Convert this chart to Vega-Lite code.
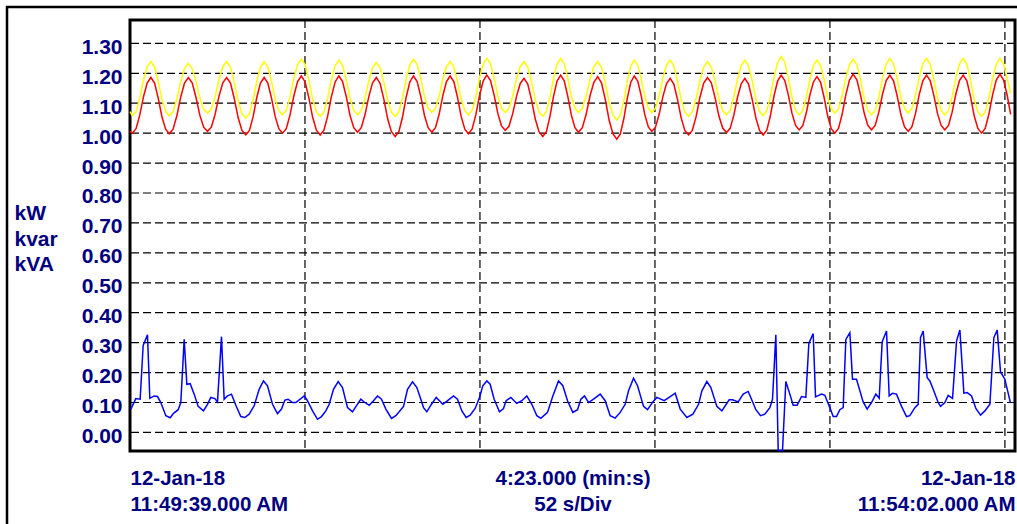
{
"$schema": "https://vega.github.io/schema/vega-lite/v6.json",
"width": 885,
"height": 431,
"autosize": {"type": "none"},
"padding": {"left": 130, "top": 20, "right": 2, "bottom": 73},
"background": "white",
"config": {"view": {"stroke": "black", "strokeWidth": 3}, "font": "Liberation Sans"},
"datasets": {
"pq": [
{"t":0,"kW":1.006,"kVA":1.072},
{"t":0.7,"kW":1.000,"kVA":1.058},{"t":1.8,"kW":1.015,"kVA":1.072},{"t":2.9,"kW":1.060,"kVA":1.116},{"t":4.0,"kW":1.121,"kVA":1.176},{"t":5.1,"kW":1.167,"kVA":1.221},{"t":6.2,"kW":1.186,"kVA":1.239},{"t":7.3,"kW":1.167,"kVA":1.221},{"t":8.4,"kW":1.116,"kVA":1.172},{"t":9.5,"kW":1.054,"kVA":1.112},{"t":10.6,"kW":1.013,"kVA":1.072},
{"t":11.65,"kW":0.998,"kVA":1.058},{"t":12.79,"kW":1.013,"kVA":1.072},{"t":13.93,"kW":1.058,"kVA":1.114},{"t":15.06,"kW":1.120,"kVA":1.172},{"t":16.2,"kW":1.167,"kVA":1.216},{"t":17.34,"kW":1.186,"kVA":1.233},{"t":18.48,"kW":1.168,"kVA":1.216},{"t":19.62,"kW":1.119,"kVA":1.172},{"t":20.75,"kW":1.060,"kVA":1.117},{"t":21.89,"kW":1.020,"kVA":1.080},
{"t":23.03,"kW":1.006,"kVA":1.067},{"t":24.17,"kW":1.020,"kVA":1.081},{"t":25.31,"kW":1.064,"kVA":1.122},{"t":26.44,"kW":1.123,"kVA":1.179},{"t":27.58,"kW":1.168,"kVA":1.222},{"t":28.72,"kW":1.186,"kVA":1.239},{"t":29.86,"kW":1.167,"kVA":1.220},{"t":31.0,"kW":1.115,"kVA":1.169},{"t":32.13,"kW":1.052,"kVA":1.107},{"t":33.27,"kW":1.009,"kVA":1.065},
{"t":34.41,"kW":0.994,"kVA":1.050},{"t":35.5,"kW":1.009,"kVA":1.065},{"t":36.59,"kW":1.055,"kVA":1.110},{"t":37.68,"kW":1.119,"kVA":1.173},{"t":38.77,"kW":1.167,"kVA":1.220},{"t":39.87,"kW":1.186,"kVA":1.239},{"t":40.96,"kW":1.167,"kVA":1.221},{"t":42.05,"kW":1.117,"kVA":1.173},{"t":43.14,"kW":1.056,"kVA":1.114},{"t":44.23,"kW":1.015,"kVA":1.075},
{"t":45.32,"kW":1.000,"kVA":1.061},{"t":46.44,"kW":1.015,"kVA":1.076},{"t":47.56,"kW":1.061,"kVA":1.121},{"t":48.68,"kW":1.124,"kVA":1.182},{"t":49.8,"kW":1.172,"kVA":1.228},{"t":50.92,"kW":1.191,"kVA":1.247},{"t":52.04,"kW":1.171,"kVA":1.228},{"t":53.16,"kW":1.118,"kVA":1.176},{"t":54.28,"kW":1.053,"kVA":1.113},{"t":55.4,"kW":1.010,"kVA":1.071},
{"t":56.52,"kW":0.994,"kVA":1.056},{"t":57.63,"kW":1.010,"kVA":1.071},{"t":58.74,"kW":1.057,"kVA":1.116},{"t":59.85,"kW":1.122,"kVA":1.178},{"t":60.96,"kW":1.171,"kVA":1.225},{"t":62.07,"kW":1.191,"kVA":1.244},{"t":63.17,"kW":1.172,"kVA":1.226},{"t":64.28,"kW":1.121,"kVA":1.176},{"t":65.39,"kW":1.059,"kVA":1.116},{"t":66.5,"kW":1.018,"kVA":1.076},
{"t":67.61,"kW":1.003,"kVA":1.061},{"t":68.73,"kW":1.018,"kVA":1.075},{"t":69.85,"kW":1.062,"kVA":1.117},{"t":70.97,"kW":1.122,"kVA":1.175},{"t":72.09,"kW":1.168,"kVA":1.219},{"t":73.21,"kW":1.186,"kVA":1.236},{"t":74.33,"kW":1.166,"kVA":1.218},{"t":75.45,"kW":1.113,"kVA":1.169},{"t":76.57,"kW":1.048,"kVA":1.110},{"t":77.69,"kW":1.005,"kVA":1.070},
{"t":78.81,"kW":0.989,"kVA":1.056},{"t":79.9,"kW":1.005,"kVA":1.071},{"t":80.99,"kW":1.054,"kVA":1.117},{"t":82.07,"kW":1.120,"kVA":1.180},{"t":83.16,"kW":1.171,"kVA":1.228},{"t":84.25,"kW":1.191,"kVA":1.247},{"t":85.34,"kW":1.172,"kVA":1.229},{"t":86.43,"kW":1.121,"kVA":1.181},{"t":87.51,"kW":1.059,"kVA":1.122},{"t":88.6,"kW":1.018,"kVA":1.083},
{"t":89.69,"kW":1.003,"kVA":1.069},{"t":90.78,"kW":1.018,"kVA":1.083},{"t":91.87,"kW":1.063,"kVA":1.123},{"t":92.96,"kW":1.125,"kVA":1.180},{"t":94.05,"kW":1.172,"kVA":1.222},{"t":95.14,"kW":1.191,"kVA":1.239},{"t":96.23,"kW":1.172,"kVA":1.221},{"t":97.32,"kW":1.120,"kVA":1.173},{"t":98.41,"kW":1.056,"kVA":1.114},{"t":99.5,"kW":1.013,"kVA":1.075},
{"t":100.59,"kW":0.998,"kVA":1.061},{"t":101.68,"kW":1.014,"kVA":1.076},{"t":102.77,"kW":1.061,"kVA":1.121},{"t":103.86,"kW":1.125,"kVA":1.184},{"t":104.95,"kW":1.174,"kVA":1.231},{"t":106.05,"kW":1.194,"kVA":1.250},{"t":107.14,"kW":1.176,"kVA":1.232},{"t":108.23,"kW":1.126,"kVA":1.183},{"t":109.32,"kW":1.065,"kVA":1.123},{"t":110.41,"kW":1.024,"kVA":1.083},
{"t":111.5,"kW":1.009,"kVA":1.069},{"t":112.62,"kW":1.023,"kVA":1.083},{"t":113.73,"kW":1.065,"kVA":1.123},{"t":114.85,"kW":1.122,"kVA":1.180},{"t":115.97,"kW":1.166,"kVA":1.222},{"t":117.09,"kW":1.183,"kVA":1.239},{"t":118.2,"kW":1.164,"kVA":1.221},{"t":119.32,"kW":1.111,"kVA":1.171},{"t":120.44,"kW":1.047,"kVA":1.111},{"t":121.55,"kW":1.005,"kVA":1.071},
{"t":122.67,"kW":0.989,"kVA":1.056},{"t":123.73,"kW":1.005,"kVA":1.072},{"t":124.79,"kW":1.055,"kVA":1.118},{"t":125.85,"kW":1.122,"kVA":1.182},{"t":126.91,"kW":1.174,"kVA":1.231},{"t":127.98,"kW":1.194,"kVA":1.250},{"t":129.04,"kW":1.175,"kVA":1.232},{"t":130.1,"kW":1.123,"kVA":1.183},{"t":131.16,"kW":1.060,"kVA":1.123},{"t":132.22,"kW":1.018,"kVA":1.083},
{"t":133.28,"kW":1.003,"kVA":1.069},{"t":134.42,"kW":1.018,"kVA":1.083},{"t":135.56,"kW":1.063,"kVA":1.123},{"t":136.7,"kW":1.124,"kVA":1.180},{"t":137.84,"kW":1.170,"kVA":1.222},{"t":138.98,"kW":1.189,"kVA":1.239},{"t":140.11,"kW":1.168,"kVA":1.220},{"t":141.25,"kW":1.112,"kVA":1.167},{"t":142.39,"kW":1.043,"kVA":1.103},{"t":143.53,"kW":0.997,"kVA":1.060},
{"t":144.67,"kW":0.980,"kVA":1.044},{"t":145.71,"kW":0.997,"kVA":1.060},{"t":146.75,"kW":1.048,"kVA":1.108},{"t":147.79,"kW":1.117,"kVA":1.174},{"t":148.83,"kW":1.170,"kVA":1.224},{"t":149.87,"kW":1.191,"kVA":1.244},{"t":150.91,"kW":1.173,"kVA":1.227},{"t":151.95,"kW":1.123,"kVA":1.179},{"t":152.99,"kW":1.062,"kVA":1.122},{"t":154.03,"kW":1.021,"kVA":1.083},
{"t":155.07,"kW":1.006,"kVA":1.069},{"t":156.16,"kW":1.020,"kVA":1.083},{"t":157.25,"kW":1.063,"kVA":1.125},{"t":158.34,"kW":1.121,"kVA":1.183},{"t":159.43,"kW":1.165,"kVA":1.227},{"t":160.52,"kW":1.183,"kVA":1.244},{"t":161.61,"kW":1.164,"kVA":1.225},{"t":162.7,"kW":1.113,"kVA":1.174},{"t":163.79,"kW":1.051,"kVA":1.112},{"t":164.88,"kW":1.009,"kVA":1.071},
{"t":165.97,"kW":0.994,"kVA":1.056},{"t":167.1,"kW":1.009,"kVA":1.071},{"t":168.23,"kW":1.055,"kVA":1.115},{"t":169.36,"kW":1.119,"kVA":1.175},{"t":170.49,"kW":1.167,"kVA":1.221},{"t":171.62,"kW":1.186,"kVA":1.239},{"t":172.75,"kW":1.168,"kVA":1.221},{"t":173.88,"kW":1.118,"kVA":1.173},{"t":175.01,"kW":1.057,"kVA":1.114},{"t":176.14,"kW":1.017,"kVA":1.075},
{"t":177.27,"kW":1.002,"kVA":1.061},{"t":178.36,"kW":1.016,"kVA":1.076},{"t":179.45,"kW":1.060,"kVA":1.120},{"t":180.54,"kW":1.120,"kVA":1.180},{"t":181.63,"kW":1.165,"kVA":1.226},{"t":182.72,"kW":1.183,"kVA":1.244},{"t":183.81,"kW":1.164,"kVA":1.225},{"t":184.9,"kW":1.113,"kVA":1.175},{"t":185.99,"kW":1.051,"kVA":1.114},{"t":187.08,"kW":1.009,"kVA":1.073},
{"t":188.17,"kW":0.994,"kVA":1.058},{"t":189.24,"kW":1.010,"kVA":1.074},{"t":190.31,"kW":1.058,"kVA":1.121},{"t":191.38,"kW":1.124,"kVA":1.187},{"t":192.45,"kW":1.174,"kVA":1.236},{"t":193.52,"kW":1.194,"kVA":1.256},{"t":194.59,"kW":1.176,"kVA":1.237},{"t":195.66,"kW":1.126,"kVA":1.184},{"t":196.73,"kW":1.066,"kVA":1.120},{"t":197.8,"kW":1.026,"kVA":1.077},
{"t":198.87,"kW":1.011,"kVA":1.061},{"t":199.93,"kW":1.025,"kVA":1.076},{"t":200.99,"kW":1.068,"kVA":1.120},{"t":202.04,"kW":1.127,"kVA":1.180},{"t":203.1,"kW":1.171,"kVA":1.226},{"t":204.16,"kW":1.189,"kVA":1.244},{"t":205.22,"kW":1.170,"kVA":1.226},{"t":206.28,"kW":1.119,"kVA":1.179},{"t":207.33,"kW":1.057,"kVA":1.120},{"t":208.39,"kW":1.015,"kVA":1.081},
{"t":209.45,"kW":1.000,"kVA":1.067},{"t":210.54,"kW":1.016,"kVA":1.081},{"t":211.63,"kW":1.063,"kVA":1.125},{"t":212.72,"kW":1.128,"kVA":1.184},{"t":213.81,"kW":1.177,"kVA":1.229},{"t":214.91,"kW":1.197,"kVA":1.247},{"t":216.0,"kW":1.178,"kVA":1.228},{"t":217.09,"kW":1.128,"kVA":1.178},{"t":218.18,"kW":1.067,"kVA":1.117},{"t":219.27,"kW":1.026,"kVA":1.076},
{"t":220.36,"kW":1.011,"kVA":1.061},{"t":221.45,"kW":1.026,"kVA":1.076},{"t":222.54,"kW":1.070,"kVA":1.121},{"t":223.63,"kW":1.130,"kVA":1.184},{"t":224.72,"kW":1.176,"kVA":1.231},{"t":225.81,"kW":1.194,"kVA":1.250},{"t":226.9,"kW":1.175,"kVA":1.232},{"t":227.99,"kW":1.124,"kVA":1.182},{"t":229.08,"kW":1.062,"kVA":1.122},{"t":230.17,"kW":1.021,"kVA":1.082},
{"t":231.26,"kW":1.006,"kVA":1.067},{"t":232.35,"kW":1.021,"kVA":1.082},{"t":233.44,"kW":1.066,"kVA":1.126},{"t":234.52,"kW":1.128,"kVA":1.186},{"t":235.61,"kW":1.175,"kVA":1.232},{"t":236.7,"kW":1.194,"kVA":1.250},{"t":237.79,"kW":1.176,"kVA":1.231},{"t":238.88,"kW":1.126,"kVA":1.180},{"t":239.96,"kW":1.066,"kVA":1.118},{"t":241.05,"kW":1.026,"kVA":1.076},
{"t":242.14,"kW":1.011,"kVA":1.061},{"t":243.23,"kW":1.026,"kVA":1.076},{"t":244.32,"kW":1.070,"kVA":1.121},{"t":245.41,"kW":1.130,"kVA":1.184},{"t":246.5,"kW":1.176,"kVA":1.231},{"t":247.6,"kW":1.194,"kVA":1.250},{"t":248.69,"kW":1.175,"kVA":1.231},{"t":249.78,"kW":1.122,"kVA":1.178},{"t":250.87,"kW":1.058,"kVA":1.114},{"t":251.96,"kW":1.016,"kVA":1.072},
{"t":253.05,"kW":1.000,"kVA":1.056},{"t":254.15,"kW":1.016,"kVA":1.072},{"t":255.24,"kW":1.063,"kVA":1.118},{"t":256.34,"kW":1.128,"kVA":1.182},{"t":257.43,"kW":1.177,"kVA":1.231},{"t":258.53,"kW":1.197,"kVA":1.250},{"t":259.62,"kW":1.177,"kVA":1.231},{"t":260.72,"kW":1.124,"kVA":1.180},{"t":261.7,"kW":1.063,"kVA":1.133}
],
"kvar": [
{"t":0.25,"v":0.078},{"t":1.73,"v":0.113},{"t":3.02,"v":0.111},{"t":3.91,"v":0.291},{"t":5.2,"v":0.326},{"t":5.89,"v":0.114},{"t":7.18,"v":0.122},{"t":8.17,"v":0.12},{"t":9.16,"v":0.1},{"t":10.65,"v":0.056},
{"t":11.94,"v":0.049},{"t":12.93,"v":0.064},{"t":14.31,"v":0.076},{"t":15.1,"v":0.1},{"t":16.1,"v":0.311},{"t":16.89,"v":0.161},{"t":17.88,"v":0.163},{"t":19.07,"v":0.128},{"t":20.26,"v":0.087},{"t":21.84,"v":0.072},
{"t":23.03,"v":0.094},{"t":24.02,"v":0.117},{"t":25.21,"v":0.113},{"t":26.0,"v":0.102},{"t":27.19,"v":0.32},{"t":27.98,"v":0.111},{"t":28.97,"v":0.122},{"t":30.16,"v":0.128},{"t":31.45,"v":0.091},{"t":32.93,"v":0.053},
{"t":34.12,"v":0.05},{"t":35.41,"v":0.061},{"t":36.9,"v":0.089},{"t":38.38,"v":0.144},{"t":39.67,"v":0.172},{"t":40.86,"v":0.156},{"t":42.35,"v":0.094},{"t":43.83,"v":0.063},{"t":45.02,"v":0.078},{"t":46.01,"v":0.108},
{"t":47.0,"v":0.111},{"t":48.29,"v":0.1},{"t":49.28,"v":0.1},{"t":50.57,"v":0.111},{"t":51.76,"v":0.122},{"t":52.75,"v":0.106},{"t":54.24,"v":0.072},{"t":55.72,"v":0.044},{"t":56.91,"v":0.053},{"t":58.2,"v":0.072},
{"t":59.19,"v":0.094},{"t":60.48,"v":0.144},{"t":61.86,"v":0.17},{"t":63.15,"v":0.15},{"t":64.64,"v":0.083},{"t":66.12,"v":0.069},{"t":67.41,"v":0.091},{"t":68.59,"v":0.111},{"t":69.78,"v":0.1},{"t":71.07,"v":0.091},
{"t":72.36,"v":0.106},{"t":73.55,"v":0.122},{"t":74.74,"v":0.111},{"t":76.03,"v":0.078},{"t":77.71,"v":0.047},{"t":79.0,"v":0.056},{"t":79.99,"v":0.069},{"t":81.28,"v":0.087},{"t":82.47,"v":0.144},{"t":83.96,"v":0.169},
{"t":85.25,"v":0.15},{"t":86.43,"v":0.111},{"t":87.22,"v":0.083},{"t":88.21,"v":0.069},{"t":89.4,"v":0.091},{"t":90.99,"v":0.117},{"t":92.97,"v":0.094},{"t":94.66,"v":0.109},{"t":96.14,"v":0.122},{"t":97.33,"v":0.111},
{"t":98.62,"v":0.072},{"t":99.9,"v":0.05},{"t":101.09,"v":0.058},{"t":102.57,"v":0.08},{"t":103.86,"v":0.117},{"t":104.85,"v":0.156},{"t":106.04,"v":0.172},{"t":107.03,"v":0.161},{"t":108.22,"v":0.111},{"t":109.8,"v":0.069},
{"t":110.99,"v":0.08},{"t":111.78,"v":0.106},{"t":113.17,"v":0.117},{"t":114.95,"v":0.097},{"t":116.44,"v":0.106},{"t":117.92,"v":0.122},{"t":119.41,"v":0.094},{"t":120.9,"v":0.056},{"t":122.09,"v":0.047},{"t":124.07,"v":0.067},
{"t":125.66,"v":0.122},{"t":127.34,"v":0.172},{"t":128.63,"v":0.156},{"t":130.02,"v":0.106},{"t":131.6,"v":0.067},{"t":132.99,"v":0.076},{"t":133.98,"v":0.111},{"t":135.07,"v":0.122},{"t":136.26,"v":0.1},{"t":137.75,"v":0.111},
{"t":139.73,"v":0.128},{"t":141.21,"v":0.106},{"t":142.7,"v":0.056},{"t":144.19,"v":0.048},{"t":145.67,"v":0.067},{"t":147.16,"v":0.094},{"t":148.15,"v":0.139},{"t":149.64,"v":0.181},{"t":150.83,"v":0.156},{"t":152.61,"v":0.087},
{"t":153.8,"v":0.076},{"t":155.38,"v":0.102},{"t":156.57,"v":0.117},{"t":158.75,"v":0.106},{"t":160.54,"v":0.12},{"t":162.02,"v":0.131},{"t":163.51,"v":0.078},{"t":165.49,"v":0.05},{"t":167.27,"v":0.061},{"t":168.96,"v":0.094},
{"t":169.95,"v":0.139},{"t":171.43,"v":0.17},{"t":172.62,"v":0.15},{"t":174.4,"v":0.087},{"t":175.89,"v":0.072},{"t":178.06,"v":0.109},{"t":179.05,"v":0.109},{"t":180.74,"v":0.102},{"t":182.22,"v":0.128},{"t":183.71,"v":0.137},
{"t":184.7,"v":0.111},{"t":185.99,"v":0.076},{"t":187.37,"v":0.056},{"t":188.66,"v":0.061},{"t":190.15,"v":0.083},{"t":190.94,"v":0.111},{"t":191.93,"v":0.326},{"t":192.63,"v":-0.06},{"t":193.91,"v":-0.06},{"t":194.9,"v":0.17},
{"t":196.09,"v":0.128},{"t":197.08,"v":0.091},{"t":198.27,"v":0.091},{"t":199.56,"v":0.12},{"t":200.84,"v":0.117},{"t":201.74,"v":0.298},{"t":203.03,"v":0.33},{"t":203.72,"v":0.119},{"t":205.5,"v":0.128},{"t":206.49,"v":0.124},
{"t":207.98,"v":0.083},{"t":208.97,"v":0.053},{"t":209.96,"v":0.053},{"t":210.95,"v":0.076},{"t":211.94,"v":0.083},{"t":212.73,"v":0.311},{"t":213.92,"v":0.333},{"t":214.71,"v":0.178},{"t":215.9,"v":0.178},{"t":217.88,"v":0.102},
{"t":219.07,"v":0.078},{"t":220.36,"v":0.1},{"t":221.65,"v":0.128},{"t":222.64,"v":0.114},{"t":223.53,"v":0.303},{"t":224.82,"v":0.339},{"t":225.61,"v":0.122},{"t":226.6,"v":0.131},{"t":227.79,"v":0.128},{"t":229.28,"v":0.087},
{"t":230.76,"v":0.053},{"t":231.75,"v":0.056},{"t":233.24,"v":0.083},{"t":234.23,"v":0.094},{"t":234.92,"v":0.317},{"t":235.71,"v":0.339},{"t":236.9,"v":0.183},{"t":237.7,"v":0.172},{"t":238.69,"v":0.144},{"t":240.17,"v":0.1},
{"t":240.87,"v":0.087},{"t":242.16,"v":0.1},{"t":243.15,"v":0.124},{"t":244.44,"v":0.114},{"t":245.63,"v":0.306},{"t":246.62,"v":0.342},{"t":247.81,"v":0.131},{"t":248.8,"v":0.133},{"t":250.09,"v":0.122},{"t":251.37,"v":0.08},
{"t":252.76,"v":0.058},{"t":254.05,"v":0.072},{"t":255.53,"v":0.094},{"t":256.72,"v":0.317},{"t":257.71,"v":0.342},{"t":258.7,"v":0.202},{"t":259.99,"v":0.178},{"t":261.67,"v":0.098}
],
"divs": [{"g":52},{"g":104},{"g":156},{"g":208},{"g":260}],
"levels": [{"y":0},{"y":0.1},{"y":0.2},{"y":0.3},{"y":0.4},{"y":0.5},{"y":0.6},{"y":0.7},{"y":0.8},{"y":0.9},{"y":1.0},{"y":1.1},{"y":1.2},{"y":1.3}]
},
"layer": [
{
"data": {"name": "divs"},
"mark": {"type": "rule", "color": "#000000", "strokeWidth": 1.2, "strokeDash": [8, 4]},
"encoding": {
"x": {"field": "g", "type": "quantitative", "scale": {"domain": [0, 263], "nice": false, "zero": false},
"axis": {"values": [0, 131.5, 263], "tickCount": 20, "title": null, "grid": false, "ticks": false, "tickSize": 0, "domain": false,
"labelExpr": "datum.value < 1 ? ['12-Jan-18', '11:49:39.000 AM'] : datum.value > 262 ? ['12-Jan-18', '11:54:02.000 AM'] : ['4:23.000 (min:s)', '52 s/Div']",
"labelFlush": true, "labelOverlap": false, "labelBound": false, "labelBaseline": "top", "labelLineHeight": 25.5,
"labelPadding": 17.5, "labelFont": "Liberation Sans", "labelFontWeight": "bold", "labelFontSize": 20.5, "labelColor": "#000080"}}
}
},
{
"data": {"name": "levels"},
"mark": {"type": "rule", "color": "#000000", "strokeWidth": 1.2, "strokeDash": [8, 4]},
"encoding": {
"y": {"field": "y", "type": "quantitative", "scale": {"domain": [-0.062, 1.378], "nice": false, "zero": false},
"axis": {"values": [0, 0.1, 0.2, 0.3, 0.4, 0.5, 0.6, 0.7, 0.8, 0.9, 1.0, 1.1, 1.2, 1.3], "tickCount": 30, "format": ".2f",
"grid": false, "labelOverlap": false, "labelBound": false,
"ticks": false, "tickSize": 0, "domain": false, "labelPadding": 8, "labelOffset": 4, "labelBaseline": "middle",
"labelFont": "Liberation Sans", "labelFontWeight": "bold", "labelFontSize": 21, "labelColor": "#000080",
"title": ["kW", "kvar", "kVA"], "titleAngle": 0, "titleAlign": "left", "titleBaseline": "top",
"titleX": -116, "titleY": 182.5, "titleLineHeight": 25.5,
"titleFont": "Liberation Sans", "titleFontWeight": "bold", "titleFontSize": 21, "titleColor": "#000080"}}
}
},
{
"data": {"name": "pq"},
"mark": {"type": "line", "color": "#ffff00", "strokeWidth": 1.5},
"encoding": {
"x": {"field": "t", "type": "quantitative"},
"y": {"field": "kVA", "type": "quantitative"}
}
},
{
"data": {"name": "pq"},
"mark": {"type": "line", "color": "#ff0000", "strokeWidth": 1.5},
"encoding": {
"x": {"field": "t", "type": "quantitative"},
"y": {"field": "kW", "type": "quantitative"}
}
},
{
"data": {"name": "kvar"},
"mark": {"type": "line", "color": "#0000ff", "strokeWidth": 1.5},
"encoding": {
"x": {"field": "t", "type": "quantitative"},
"y": {"field": "v", "type": "quantitative"}
}
},
{
"data": {"values": [{}]},
"mark": {"type": "rect", "filled": false, "stroke": "#000000", "strokeWidth": 2.5, "clip": false},
"encoding": {
"x": {"datum": -36.55, "type": "quantitative"},
"x2": {"datum": 320},
"y": {"datum": 1.4214, "type": "quantitative"},
"y2": {"datum": -1.5}
}
}
]
}
